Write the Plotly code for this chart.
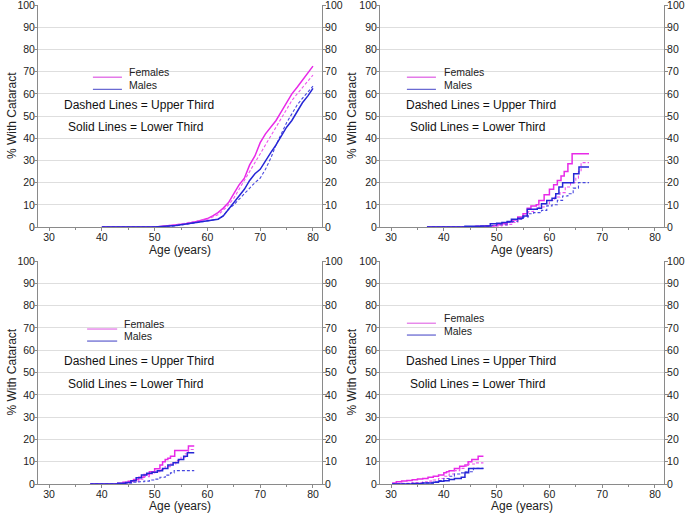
import plotly.graph_objects as go

# ---------------- data (age in years, % with cataract) ----------------
# Panel 1 (top-left)
p1_fs_x = [40, 50, 52, 54, 56, 58, 60, 61, 62, 63, 64, 65, 66, 67, 68, 69, 70, 71, 72, 73, 74, 75, 76, 77, 78, 79, 80]
p1_fs_y = [0, 0, 0.5, 1, 1.5, 2.5, 3.8, 5, 6.5, 8.5, 11, 15, 19, 22, 28, 32, 38, 42, 45, 48, 52, 56, 60, 63, 66, 69, 72.5]
p1_fd_x = [40, 50, 54, 58, 60, 62, 63, 64, 65, 66, 67, 68, 69, 70, 71, 72, 73, 74, 75, 76, 77, 78, 79, 80]
p1_fd_y = [0, 0, 1, 2.5, 3.5, 5.5, 7.5, 10, 13, 17, 21, 25, 29, 33, 37, 41, 45, 49, 53, 57, 60, 63, 66, 68.5]
p1_ms_x = [40, 50, 54, 58, 60, 62, 63, 64, 65, 66, 67, 68, 69, 70, 71, 72, 73, 74, 75, 76, 77, 78, 79, 80]
p1_ms_y = [0, 0, 0.7, 2, 2.8, 3.5, 5, 8, 11.5, 14, 17, 21, 24, 26, 30, 33.5, 37, 41, 45, 48, 52, 56, 59, 62.5]
p1_md_x = [40, 50, 54, 58, 60, 62, 63, 64, 65, 66, 67, 68, 69, 70, 71, 72, 73, 74, 75, 76, 77, 78, 79, 80]
p1_md_y = [0, 0, 0.5, 2, 2.8, 3.5, 5, 8, 10, 12.5, 15, 17.5, 20, 22, 26, 31, 37, 42, 47, 51, 55, 58, 61, 63.5]

# Panel 2 (top-right)
p2_fs_x = [36.8, 46, 48, 50, 51, 52, 53, 54, 55, 55.8, 56.5, 57.5, 58, 59, 60, 60.8, 61.5, 62.2, 62.8, 63.5, 64.3, 67.5]
p2_fs_y = [0, 0.3, 0.6, 1, 1.5, 2.3, 3.2, 4.5, 6, 8.5, 9.5, 10, 12, 14.5, 17, 19, 21, 23, 25, 28.5, 33, 33]
p2_fd_x = [36.8, 48, 50, 51, 52, 53, 54, 55, 56, 57, 58, 59, 60, 61, 62, 63, 64, 65, 65.5, 66, 67.5]
p2_fd_y = [0, 0.2, 0.5, 0.8, 1.2, 2, 3.5, 5, 7, 8, 9, 10.5, 12, 13.5, 15.5, 18, 20, 22, 25, 29, 29]
p2_ms_x = [36.8, 44, 47, 48.8, 50, 51, 52, 52.8, 54, 55, 55.8, 57.7, 58.5, 59.5, 60.5, 61.2, 61.8, 62.5, 64.6, 65.6, 67.5]
p2_ms_y = [0, 0.3, 0.5, 1.5, 1.7, 2, 2.5, 3.5, 4, 5, 8, 8.5, 10.5, 12, 13, 15, 18, 20, 24, 27, 27]
p2_md_x = [36.8, 46, 49, 50, 52, 53, 54, 55, 56, 57, 58.5, 59.5, 60.5, 61.5, 62.5, 63.5, 64.5, 65.5, 67.5]
p2_md_y = [0, 0.3, 0.7, 1, 2, 2.5, 3.5, 4.5, 6, 6.5, 7.5, 9.5, 10, 12, 14, 15, 17.5, 20, 20]

# Panel 3 (bottom-left)
p3_fs_x = [37.8, 43, 44, 45, 46, 47, 48, 49, 50, 51, 51.5, 52, 52.5, 53, 53.8, 56.4, 57.5]
p3_fs_y = [0, 0.3, 0.8, 1.2, 2, 3, 4.3, 5.5, 6.8, 8.5, 10, 11, 11.5, 12.5, 15, 17, 17]
p3_fd_x = [37.8, 44, 45, 46, 47, 48, 49, 50, 51, 52, 53, 54, 55, 55.8, 56.4, 57.5]
p3_fd_y = [0, 0.3, 0.6, 1.2, 2.2, 3.3, 4.5, 5.5, 6.5, 7.8, 9, 10.5, 12, 13.5, 15.5, 15.5]
p3_ms_x = [37.8, 43, 44.5, 45.5, 46.5, 47.5, 48.5, 49.5, 50.5, 51.5, 52.5, 53.5, 54.5, 55.5, 56.2, 57.5]
p3_ms_y = [0, 0.3, 0.7, 1.5, 2.8, 4, 4.8, 5.3, 6, 7, 8.5, 9.5, 11, 12.5, 14, 14]
p3_md_x = [37.8, 45, 46, 47, 48, 49, 50, 51, 52, 53, 53.7, 57.5]
p3_md_y = [0, 0.5, 0.8, 1, 1.3, 1.8, 2.2, 3, 4, 5, 6, 6]

# Panel 4 (bottom-right)
p4_fs_x = [30.2, 31, 32, 33, 34, 35, 36, 37, 38, 39, 40, 40.5, 41, 42, 43, 44, 44.6, 45.3, 46.5, 47.5]
p4_fs_y = [0.5, 1, 1.3, 1.6, 1.9, 2.2, 2.5, 3, 3.5, 4, 5, 5.5, 6, 7, 8, 8.5, 10, 11, 12.5, 12.5]
p4_fd_x = [30.2, 32, 34, 36, 37, 38, 39, 40, 41, 42, 43, 44, 44.7, 46, 47.5]
p4_fd_y = [0, 0.3, 0.7, 1, 1.3, 1.8, 2.5, 3.5, 4.5, 6, 7, 8, 9, 9.5, 9.5]
p4_ms_x = [30.2, 34, 36, 38, 39, 40, 41, 42, 43.3, 44, 44.7, 47.5]
p4_ms_y = [0, 0.2, 0.4, 0.8, 1.2, 1.5, 2, 2.5, 3, 5, 7, 7]
p4_md_x = [30.2, 33, 36, 38, 39, 40, 41, 42, 43, 44, 45, 45.6, 47.5]
p4_md_y = [0, 0.2, 0.5, 1, 1.5, 2.5, 3.5, 4.5, 5, 5.5, 5.5, 7, 7]

x_ticks = [30, 40, 50, 60, 70, 80]
y_ticks = [0, 10, 20, 30, 40, 50, 60, 70, 80, 90, 100]
legend_labels = ["Females", "Males"]
note_dashed = "Dashed Lines = Upper Third"
note_solid = "Solid Lines = Lower Third"
y_title = "% With Cataract"
x_title = "Age (years)"

# ---------------- styling ----------------
FONT = "Liberation Sans, Arial, sans-serif"
F_SOLID = "#e82ae8"
F_DASH = "#ee55ee"
M_SOLID = "#2626d6"
M_DASH = "#4747e0"
LEG_F = "#e47ae8"
LEG_M = "#6a6ad2"
AXC = "#8a8a8a"
TICKFONT = dict(size=10.5, family=FONT, color="#222")
W, H = 685, 513

panels = [
    dict(data=[(p1_fs_x, p1_fs_y, "F", "solid"), (p1_fd_x, p1_fd_y, "F", "dash"),
               (p1_md_x, p1_md_y, "M", "dash"), (p1_ms_x, p1_ms_y, "M", "solid")],
         shape="linear", xd=[0.0555, 0.470], yd=[0.5575, 0.990], ytx=12,
         leg=dict(x0=38.3, x1=43.8, tx=44.8, fy=67.5, fty=69.7, my=62.0, mty=64.0)),
    dict(data=[(p2_fs_x, p2_fs_y, "F", "solid"), (p2_fd_x, p2_fd_y, "F", "dash"),
               (p2_md_x, p2_md_y, "M", "dash"), (p2_ms_x, p2_ms_y, "M", "solid")],
         shape="hv", xd=[0.5547, 0.9693], yd=[0.5575, 0.990], ytx=352,
         leg=dict(x0=33.0, x1=38.5, tx=39.6, fy=67.5, fty=69.7, my=62.0, mty=64.0)),
    dict(data=[(p3_fs_x, p3_fs_y, "F", "solid"), (p3_fd_x, p3_fd_y, "F", "dash"),
               (p3_md_x, p3_md_y, "M", "dash"), (p3_ms_x, p3_ms_y, "M", "solid")],
         shape="hv", xd=[0.0555, 0.470], yd=[0.0565, 0.4912], ytx=12,
         leg=dict(x0=37.2, x1=42.9, tx=43.8, fy=69.5, fty=71.7, my=64.1, mty=66.4)),
    dict(data=[(p4_fs_x, p4_fs_y, "F", "solid"), (p4_fd_x, p4_fd_y, "F", "dash"),
               (p4_md_x, p4_md_y, "M", "dash"), (p4_ms_x, p4_ms_y, "M", "solid")],
         shape="hv", xd=[0.5547, 0.9693], yd=[0.0565, 0.4912], ytx=352,
         leg=dict(x0=33.0, x1=38.5, tx=39.6, fy=72.1, fty=74.3, my=66.8, mty=68.7)),
]

fig = go.Figure()
layout = dict(width=W, height=H, margin=dict(l=0, r=0, t=0, b=0),
              paper_bgcolor="white", plot_bgcolor="white", showlegend=False,
              font=dict(family=FONT, color="#222222"))
shapes = []
annotations = []
XR = [27.9, 81.7]
YR = [0, 100]

for i, p in enumerate(panels):
    n = i + 1
    xa = "x" if n == 1 else f"x{n}"
    ya = "y" if n == 1 else f"y{n}"
    xt = f"x{n+4}"     # overlay x axis: tick marks only
    yr = f"y{n+4}"     # overlay y axis: right-hand labels
    yt = f"y{n+8}"     # overlay y axis: tick marks (mirrored)
    for xs, ys, sex, dash in p["data"]:
        if sex == "F":
            col = F_SOLID if dash == "solid" else F_DASH
        else:
            col = M_SOLID if dash == "solid" else M_DASH
        fig.add_trace(go.Scatter(x=xs, y=ys, mode="lines", xaxis=xa, yaxis=ya,
                                 line=dict(color=col, width=1.5 if dash == "solid" else 1.1,
                                           dash="solid" if dash == "solid" else "3px,2px",
                                           shape=p["shape"]),
                                 hoverinfo="skip"))
    # invisible traces so the overlay axes are drawn
    fig.add_trace(go.Scatter(x=[None], y=[None], xaxis=xa, yaxis=yr, hoverinfo="skip"))
    fig.add_trace(go.Scatter(x=[None], y=[None], xaxis=xa, yaxis=yt, hoverinfo="skip"))
    fig.add_trace(go.Scatter(x=[None], y=[None], xaxis=xt, yaxis=ya, hoverinfo="skip"))

    # main x axis: labels + line + title
    layout["xaxis" if n == 1 else f"xaxis{n}"] = dict(
        domain=p["xd"], anchor=ya, range=XR, tickvals=x_ticks,
        ticks="", showline=True, linecolor=AXC, linewidth=1, showgrid=False, zeroline=False,
        ticklabeloverflow="allow", tickfont=TICKFONT,
        title=dict(text=x_title, font=dict(size=12, family=FONT, color="#222"), standoff=0),
        automargin=False)
    # overlay x axis: tick marks
    layout[f"xaxis{n+4}"] = dict(
        domain=p["xd"], anchor=ya, overlaying=xa, side="bottom", range=XR, tickvals=x_ticks,
        ticks="outside", ticklen=3, tickcolor=AXC, showticklabels=False, showline=False,
        showgrid=False, zeroline=False,
        minor=dict(dtick=5, tick0=25, ticks="outside", ticklen=2, tickcolor=AXC),
        automargin=False)
    # main y axis: left labels + grid + line
    layout["yaxis" if n == 1 else f"yaxis{n}"] = dict(
        domain=p["yd"], anchor=xa, range=YR, tickvals=y_ticks, ticks="",
        showline=True, linecolor=AXC, linewidth=1, zeroline=False,
        showgrid=True, gridcolor="#dedede", gridwidth=1,
        tickfont=TICKFONT, ticklabeloverflow="allow", automargin=False)
    # right y axis: labels + line
    layout[f"yaxis{n+4}"] = dict(
        domain=p["yd"], anchor=xa, overlaying=ya, side="right", range=YR, tickvals=y_ticks,
        ticks="", showline=True, linecolor=AXC, linewidth=1, zeroline=False, showgrid=False,
        tickfont=TICKFONT, ticklabeloverflow="allow", automargin=False)
    # tick-mark y axis (mirrored on both sides)
    layout[f"yaxis{n+8}"] = dict(
        domain=p["yd"], anchor=xa, overlaying=ya, side="left", range=YR, tickvals=y_ticks,
        ticks="outside", ticklen=3, tickcolor=AXC, mirror="ticks", showline=False,
        showticklabels=False, zeroline=False, showgrid=False, automargin=False)

    # y-axis title
    annotations.append(dict(xref="paper", yref="paper", x=p["ytx"] / W, y=sum(p["yd"]) / 2,
                            text=y_title, textangle=-90, showarrow=False,
                            xanchor="center", yanchor="middle",
                            font=dict(size=12, family=FONT, color="#222")))

    lg = p["leg"]
    shapes.append(dict(type="line", xref=xa, yref=ya, x0=lg["x0"], x1=lg["x1"], y0=lg["fy"], y1=lg["fy"],
                       line=dict(color=LEG_F, width=1.3)))
    shapes.append(dict(type="line", xref=xa, yref=ya, x0=lg["x0"], x1=lg["x1"], y0=lg["my"], y1=lg["my"],
                       line=dict(color=LEG_M, width=1.3)))
    annotations.append(dict(xref=xa, yref=ya, x=lg["tx"], y=lg["fty"], text=legend_labels[0],
                            showarrow=False, xanchor="left", font=dict(size=10.5, family=FONT, color="#222")))
    annotations.append(dict(xref=xa, yref=ya, x=lg["tx"], y=lg["mty"], text=legend_labels[1],
                            showarrow=False, xanchor="left", font=dict(size=10.5, family=FONT, color="#222")))
    annotations.append(dict(xref=xa, yref=ya, x=47.0, y=55, text=note_dashed, showarrow=False,
                            font=dict(size=12, family=FONT, color="#111")))
    annotations.append(dict(xref=xa, yref=ya, x=46.5, y=45, text=note_solid, showarrow=False,
                            font=dict(size=12, family=FONT, color="#111")))

layout["shapes"] = shapes
layout["annotations"] = annotations
fig.update_layout(**layout)
fig.write_html("out.html", config={"displayModeBar": False},
               post_script="document.body.style.margin='0';document.body.style.overflow='hidden';")
